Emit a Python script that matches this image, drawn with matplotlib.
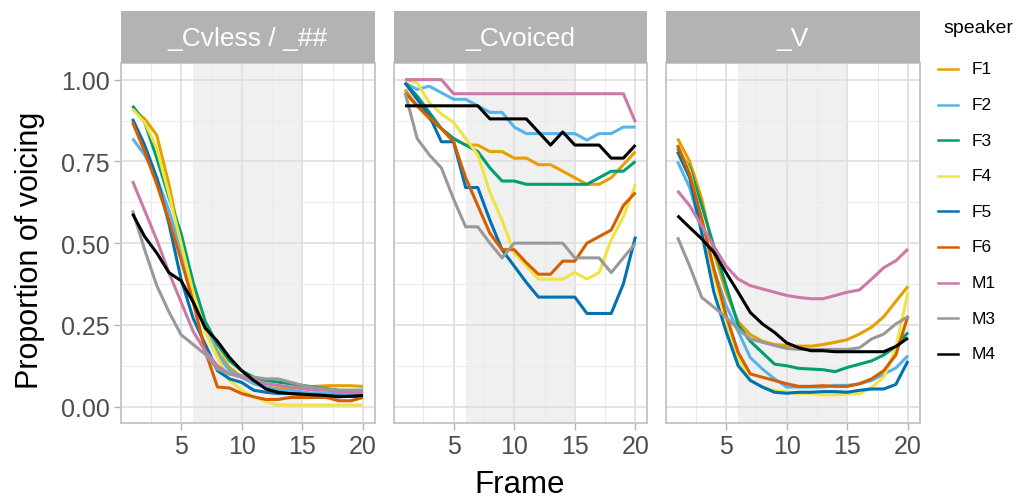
import matplotlib
matplotlib.use("Agg")
import matplotlib.pyplot as plt
from matplotlib.lines import Line2D

plt.rcParams["font.family"] = ["Liberation Sans", "DejaVu Sans"]

# =========================
# Data
# =========================
frames = list(range(1, 21))
speakers = ["F1", "F2", "F3", "F4", "F5", "F6", "M1", "M3", "M4"]
colors = ["#E69F00", "#56B4E9", "#009E73", "#F0E442", "#0072B2",
          "#D55E00", "#CC79A7", "#999999", "#000000"]
facet_titles = ["_Cvless / _##", "_Cvoiced", "_V"]

cvless = {
    "F1": [0.91, 0.88, 0.83, 0.68, 0.50, 0.35, 0.24, 0.17, 0.12, 0.09,
           0.075, 0.06, 0.055, 0.055, 0.06, 0.062, 0.064, 0.064, 0.064, 0.062],
    "F2": [0.82, 0.77, 0.70, 0.60, 0.48, 0.36, 0.25, 0.16, 0.11, 0.09,
           0.07, 0.06, 0.05, 0.05, 0.045, 0.04, 0.04, 0.04, 0.04, 0.04],
    "F3": [0.92, 0.87, 0.76, 0.64, 0.53, 0.38, 0.26, 0.19, 0.14, 0.11,
           0.09, 0.08, 0.075, 0.07, 0.065, 0.06, 0.055, 0.05, 0.05, 0.05],
    "F4": [0.91, 0.87, 0.79, 0.65, 0.50, 0.35, 0.23, 0.15, 0.08, 0.05,
           0.03, 0.015, 0.005, 0.005, 0.005, 0.005, 0.005, 0.005, 0.005, 0.005],
    "F5": [0.88, 0.80, 0.70, 0.56, 0.39, 0.27, 0.19, 0.11, 0.085, 0.074,
           0.05, 0.044, 0.04, 0.04, 0.038, 0.035, 0.034, 0.033, 0.031, 0.03],
    "F6": [0.87, 0.78, 0.68, 0.57, 0.45, 0.32, 0.17, 0.06, 0.057, 0.04,
           0.03, 0.022, 0.022, 0.028, 0.028, 0.028, 0.028, 0.018, 0.018, 0.028],
    "M1": [0.69, 0.60, 0.51, 0.41, 0.32, 0.23, 0.17, 0.125, 0.10, 0.09,
           0.08, 0.07, 0.065, 0.06, 0.055, 0.05, 0.05, 0.045, 0.045, 0.045],
    "M3": [0.60, 0.48, 0.37, 0.29, 0.22, 0.19, 0.16, 0.115, 0.10, 0.095,
           0.09, 0.085, 0.085, 0.075, 0.065, 0.058, 0.054, 0.05, 0.05, 0.05],
    "M4": [0.59, 0.52, 0.47, 0.41, 0.385, 0.32, 0.24, 0.20, 0.15, 0.11,
           0.08, 0.054, 0.044, 0.04, 0.038, 0.036, 0.034, 0.03, 0.032, 0.034],
}

cvoiced = {
    "F1": [0.97, 0.92, 0.88, 0.85, 0.82, 0.80, 0.80, 0.78, 0.78, 0.76,
           0.76, 0.74, 0.74, 0.72, 0.70, 0.68, 0.68, 0.70, 0.74, 0.78],
    "F2": [0.99, 0.97, 0.98, 0.96, 0.94, 0.94, 0.92, 0.90, 0.90, 0.855,
           0.835, 0.835, 0.835, 0.835, 0.835, 0.815, 0.835, 0.835, 0.855, 0.855],
    "F3": [0.99, 0.95, 0.90, 0.85, 0.82, 0.80, 0.78, 0.73, 0.69, 0.69,
           0.68, 0.68, 0.68, 0.68, 0.68, 0.68, 0.70, 0.72, 0.72, 0.75],
    "F4": [1.00, 0.99, 0.93, 0.895, 0.87, 0.82, 0.77, 0.655, 0.57, 0.47,
           0.43, 0.39, 0.39, 0.39, 0.41, 0.39, 0.41, 0.51, 0.58, 0.68],
    "F5": [0.99, 0.94, 0.89, 0.81, 0.81, 0.67, 0.67, 0.57, 0.48, 0.43,
           0.38, 0.335, 0.335, 0.335, 0.335, 0.285, 0.285, 0.285, 0.375, 0.52],
    "F6": [0.96, 0.92, 0.885, 0.85, 0.81, 0.70, 0.615, 0.53, 0.48, 0.48,
           0.44, 0.405, 0.405, 0.445, 0.445, 0.50, 0.52, 0.54, 0.615, 0.655],
    "M1": [1.00, 1.00, 1.00, 1.00, 0.957, 0.957, 0.957, 0.957, 0.957, 0.957,
           0.957, 0.957, 0.957, 0.957, 0.957, 0.957, 0.957, 0.957, 0.957, 0.87],
    "M3": [0.96, 0.82, 0.77, 0.73, 0.635, 0.55, 0.55, 0.50, 0.455, 0.50,
           0.50, 0.50, 0.50, 0.50, 0.455, 0.455, 0.455, 0.41, 0.455, 0.50],
    "M4": [0.92, 0.92, 0.92, 0.92, 0.92, 0.92, 0.92, 0.88, 0.88, 0.88,
           0.88, 0.84, 0.80, 0.84, 0.80, 0.80, 0.80, 0.76, 0.76, 0.80],
}

vowel = {
    "F1": [0.82, 0.75, 0.635, 0.47, 0.35, 0.26, 0.22, 0.20, 0.19, 0.187,
           0.185, 0.185, 0.19, 0.197, 0.205, 0.222, 0.243, 0.275, 0.322, 0.368],
    "F2": [0.75, 0.67, 0.54, 0.42, 0.31, 0.23, 0.15, 0.115, 0.085, 0.06,
           0.06, 0.06, 0.06, 0.065, 0.065, 0.07, 0.08, 0.10, 0.118, 0.156],
    "F3": [0.79, 0.73, 0.615, 0.49, 0.37, 0.25, 0.20, 0.165, 0.13, 0.125,
           0.117, 0.115, 0.113, 0.107, 0.12, 0.13, 0.14, 0.158, 0.184, 0.227],
    "F4": [0.80, 0.72, 0.57, 0.40, 0.26, 0.15, 0.08, 0.06, 0.05, 0.045,
           0.04, 0.04, 0.036, 0.036, 0.039, 0.039, 0.059, 0.09, 0.18, 0.35],
    "F5": [0.78, 0.70, 0.53, 0.35, 0.23, 0.125, 0.08, 0.06, 0.044, 0.041,
           0.044, 0.044, 0.046, 0.046, 0.044, 0.05, 0.054, 0.054, 0.068, 0.14],
    "F6": [0.80, 0.71, 0.575, 0.42, 0.28, 0.166, 0.10, 0.09, 0.08, 0.07,
           0.062, 0.062, 0.064, 0.062, 0.062, 0.07, 0.085, 0.11, 0.158, 0.278],
    "M1": [0.66, 0.615, 0.553, 0.49, 0.43, 0.39, 0.37, 0.36, 0.35, 0.34,
           0.334, 0.33, 0.33, 0.34, 0.35, 0.357, 0.39, 0.425, 0.446, 0.482],
    "M3": [0.518, 0.43, 0.334, 0.304, 0.273, 0.237, 0.207, 0.197, 0.187, 0.178,
           0.175, 0.175, 0.175, 0.175, 0.175, 0.18, 0.207, 0.222, 0.253, 0.275],
    "M4": [0.584, 0.548, 0.513, 0.472, 0.41, 0.35, 0.288, 0.253, 0.227, 0.195,
           0.18, 0.171, 0.171, 0.168, 0.168, 0.168, 0.168, 0.168, 0.184, 0.21],
}

shade_start, shade_end = 6, 15

# =========================
# Layout (pixel based)
# =========================
W, H = 1021, 502
fig = plt.figure(figsize=(W / 100, H / 100), dpi=100)


def px_axes(x0, y0, x1, y1):
    return fig.add_axes([x0 / W, 1 - y1 / H, (x1 - x0) / W, (y1 - y0) / H])


panel_w = 253.5
lefts = [121, 393.5, 666]
panel_top, panel_bot = 64.3, 424
strip_top = 12.3

grid_major = "#DEDEDE"
grid_minor = "#EBEBEB"
border = "#C4C4C4"

for i, (data, title) in enumerate(zip([cvless, cvoiced, vowel], facet_titles)):
    x0 = lefts[i]
    ax = px_axes(x0, panel_top, x0 + panel_w, panel_bot)
    ax.set_xlim(0.05, 20.95)
    ax.set_ylim(-0.05, 1.05)
    ax.set_axisbelow(True)

    ax.axvspan(shade_start, shade_end, color="#F0F0F0", lw=0, zorder=0)

    ax.set_xticks([5, 10, 15, 20])
    ax.set_xticks([2.5, 7.5, 12.5, 17.5], minor=True)
    ax.set_yticks([0, 0.25, 0.5, 0.75, 1.0])
    ax.set_yticks([0.125, 0.375, 0.625, 0.875], minor=True)
    ax.grid(which="major", color=grid_major, lw=1.2)
    ax.grid(which="minor", color=grid_minor, lw=0.8)

    ax.tick_params(which="major", length=5, width=1, color="#B3B3B3",
                   labelsize=18, labelcolor="#4D4D4D", pad=3)
    ax.tick_params(which="minor", length=0)
    if i == 0:
        ax.set_yticklabels(["0.00", "0.25", "0.50", "0.75", "1.00"])
    else:
        ax.tick_params(axis="y", which="major", length=0, labelleft=False)

    for sp in ax.spines.values():
        sp.set_color(border)
        sp.set_linewidth(1.3)

    for spk, col in zip(speakers, colors):
        ax.plot(frames, data[spk], color=col, lw=2.2, solid_capstyle="butt",
                zorder=3)

    # facet strip
    sax = px_axes(x0, strip_top, x0 + panel_w, panel_top)
    sax.set_facecolor("#B3B3B3")
    sax.set_xticks([])
    sax.set_yticks([])
    for sp in sax.spines.values():
        sp.set_visible(False)
    sax.text(0.5, 0.48, title, color="white", fontsize=19,
             ha="center", va="center", transform=sax.transAxes)

# axis titles
fig.text(520 / W, 1 - 485 / H, "Frame", ha="center", va="center", fontsize=22.5)
fig.text(30 / W, 1 - 250 / H, "Proportion of voicing", ha="center",
         va="center", rotation=90, fontsize=22)

# legend
fig.text(943 / W, 1 - 29 / H, "speaker", ha="left", va="center", fontsize=14)
for k, (spk, col) in enumerate(zip(speakers, colors)):
    yy = 1 - (70 + k * 35.6) / H
    fig.add_artist(Line2D([938 / W, 958 / W], [yy, yy], color=col, lw=1.8,
                          transform=fig.transFigure))
    fig.text(972 / W, yy, spk, ha="left", va="center", fontsize=12.5)

fig.savefig("out.png", dpi=100)
